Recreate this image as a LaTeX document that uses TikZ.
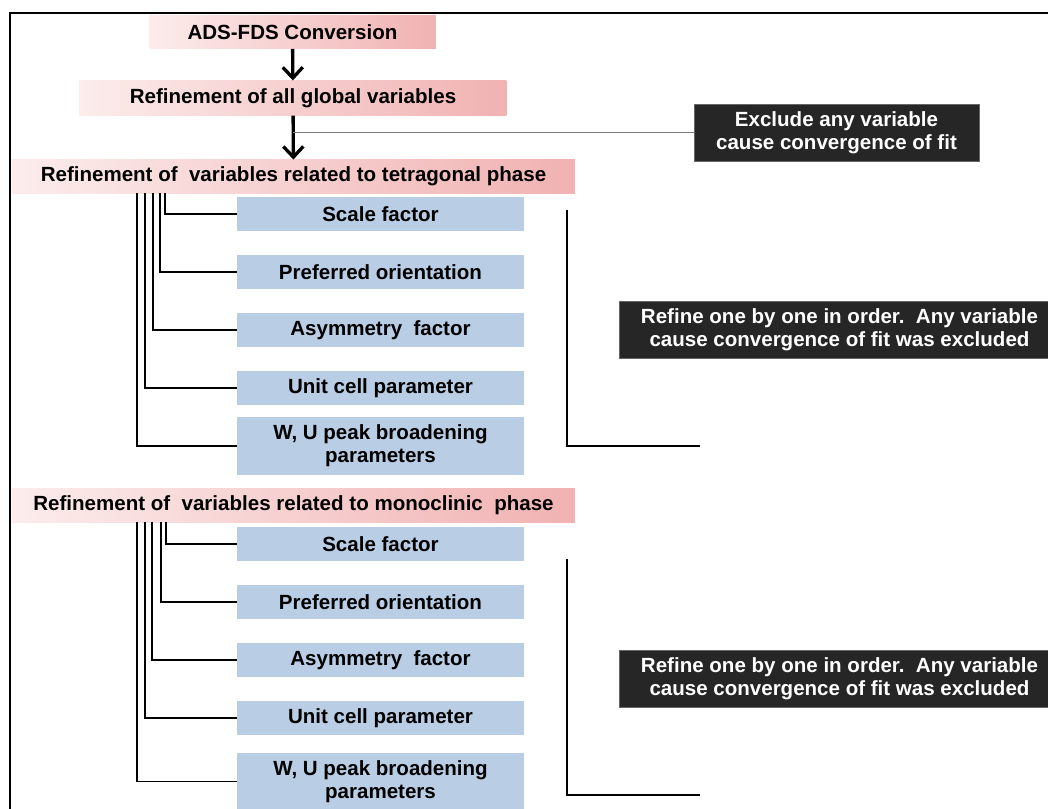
\documentclass[tikz,border=0pt]{standalone}
\usepackage{fontspec}
\setmainfont{Liberation Sans}
\usetikzlibrary{arrows.meta,positioning}
\definecolor{pinklight}{RGB}{252,236,236}
\definecolor{pinkdark}{RGB}{241,178,178}
\definecolor{boxblue}{RGB}{185,205,229}
\definecolor{darkbox}{RGB}{38,38,38}

\begin{document}
\begin{tikzpicture}[x=0.75pt, y=-0.75pt, node distance=43.5pt,
    font=\fontsize{15.4}{17.3}\selectfont\bfseries,
    stage/.style={rectangle, left color=pinklight, right color=pinkdark, minimum height=25pt, inner sep=0pt},
    item/.style={rectangle, fill=boxblue, minimum width=215pt, minimum height=25.5pt, align=center, inner sep=0pt},
    note/.style={rectangle, fill=darkbox, draw=black!60, text=white, minimum height=43pt, align=center, inner sep=0pt},
    flow/.style={-{Straight Barb[length=8pt,width=15pt]}, line width=2.5pt},
    link/.style={line width=1.1pt}]
    \useasboundingbox (0,0) rectangle (1048,809);

    % Frame
    \draw[line width=1.5pt] (10,809) -- (10,13) -- (1048,13);

    % Main steps
    \node [stage, minimum width=215pt] (ads) at (292.5,32) {ADS-FDS Conversion};
    \node [stage, minimum width=320pt, minimum height=26pt] (glob) at (293,98) {Refinement of all global variables};
    \node [stage, minimum width=422pt] (tet) at (293.5,176.5) {Refinement of\ \ variables related to tetragonal phase};
    \node [stage, minimum width=422pt] (mono) at (293.5,505.5) {Refinement of\ \ variables related to monoclinic\ \ phase};

    % Notes
    \node [note, minimum width=214pt] (excl) at (836.5,132.5) {Exclude any variable\\cause convergence of fit};
    \node [note, minimum width=331pt] (tnote) at (839.5,329.5) {Refine one by one in order.\ \ Any variable\\cause convergence of fit was excluded};
    \node [note, minimum width=331pt] (mnote) at (839.5,678.5) {Refine one by one in order.\ \ Any variable\\cause convergence of fit was excluded};

    % Tetragonal variables
    \node [item] (t1) at (380.5,214) {Scale factor};
    \node [item, below of=t1] (t2) {Preferred orientation};
    \node [item, below of=t2] (t3) {Asymmetry\ \ factor};
    \node [item, below of=t3] (t4) {Unit cell parameter};
    \node [item, below of=t4, minimum height=43pt] (t5) {W, U peak broadening\\parameters};

    % Monoclinic variables
    \node [item] (m1) at (380.5,544) {Scale factor};
    \node [item, below of=m1] (m2) {Preferred orientation};
    \node [item, below of=m2] (m3) {Asymmetry\ \ factor};
    \node [item, below of=m3] (m4) {Unit cell parameter};
    \node [item, below of=m4, yshift=-4pt, minimum height=43pt] (m5) {W, U peak broadening\\parameters};

    % Arrows
    \draw[flow] (ads) -- (glob);
    \draw[flow] (glob) -- (tet);
    \draw[black!50, line width=1.2pt] (glob.south |- excl.west) -- (excl.west);

    % Tetragonal connectors
    \draw[link] (165,0 |- tet.south) |- (t1.west);
    \draw[link] (160,0 |- tet.south) |- (t2.west);
    \draw[link] (153,0 |- tet.south) |- (t3.west);
    \draw[link] (145,0 |- tet.south) |- (t4.west);
    \draw[link] (137,0 |- tet.south) |- (t5.west);

    % Monoclinic connectors
    \draw[link] (166,0 |- mono.south) |- (m1.west);
    \draw[link] (161,0 |- mono.south) |- (m2.west);
    \draw[link] (152,0 |- mono.south) |- (m3.west);
    \draw[link] (145,0 |- mono.south) |- (m4.west);
    \draw[link] (137,0 |- mono.south) |- (m5.west);

    % Brackets
    \coordinate (ttop) at (567,210);
    \coordinate (tend) at (700,446);
    \coordinate (mtop) at (567,559);
    \coordinate (mend) at (700,795);
    \draw[link] (ttop) |- (tend);
    \draw[link] (mtop) |- (mend);
\end{tikzpicture}
\end{document}
